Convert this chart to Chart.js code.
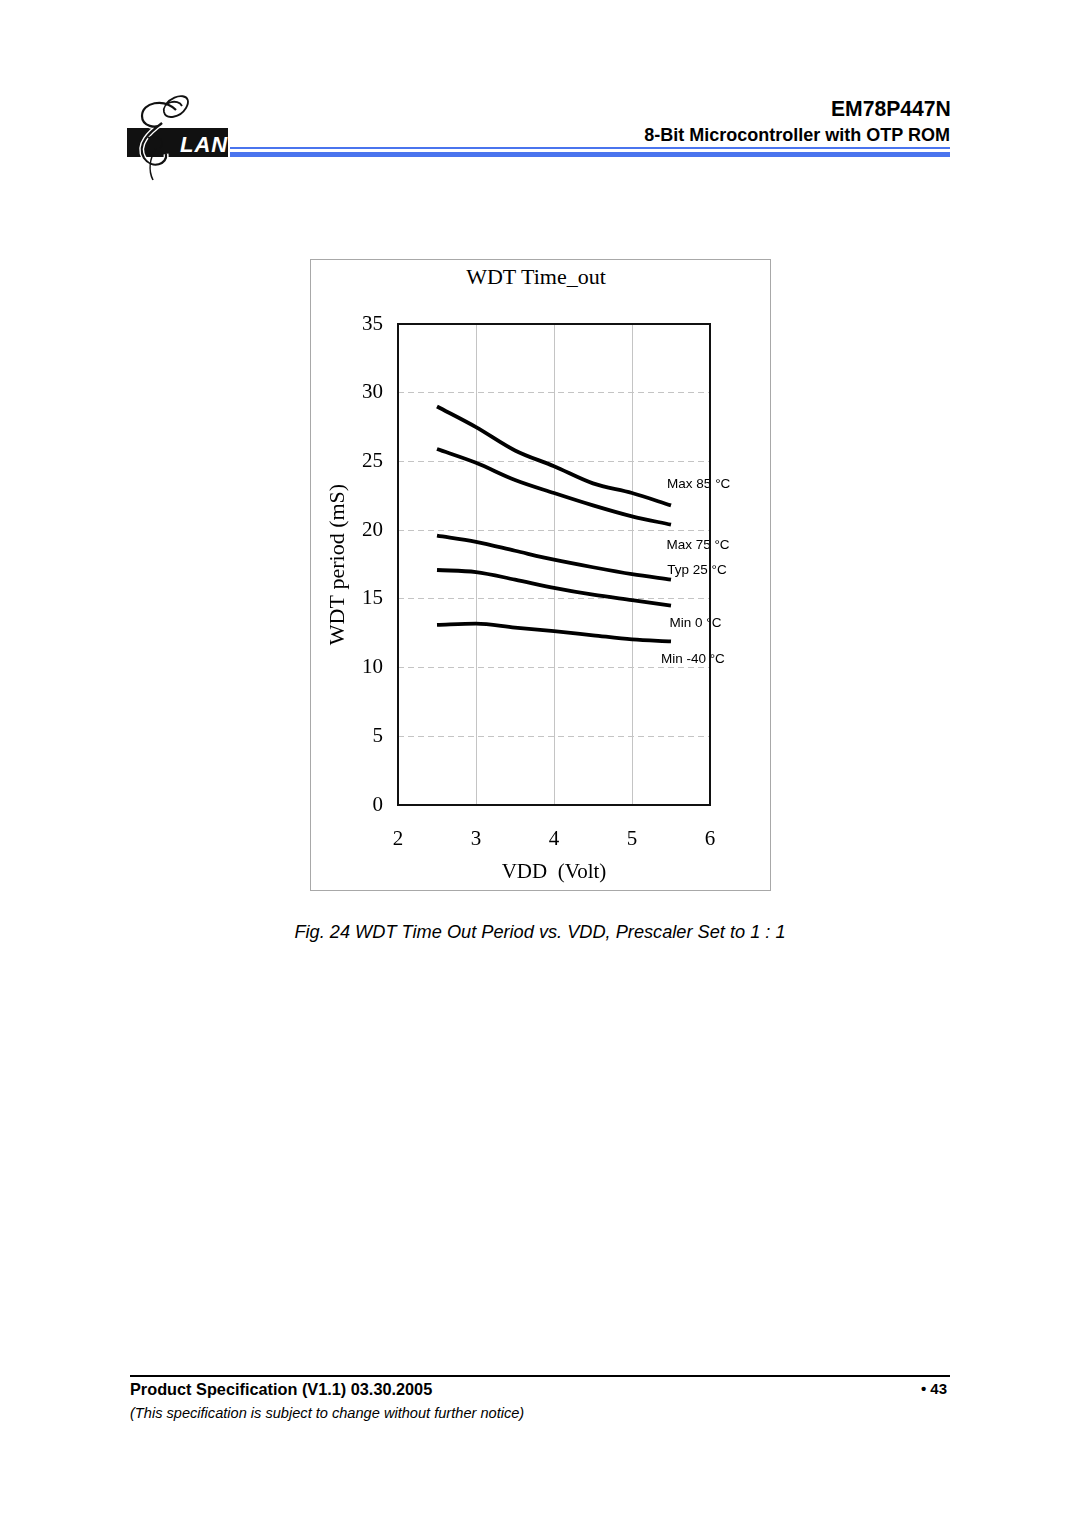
<!DOCTYPE html>
<html><head><meta charset="utf-8">
<script src="https://cdn.jsdelivr.net/npm/chart.js@4.4.1/dist/chart.umd.min.js"></script>
<style>
html,body{margin:0;padding:0;background:#fff;}
body{width:1080px;height:1528px;position:relative;overflow:hidden;font-family:"Liberation Sans",Arial,sans-serif;}
.abs{position:absolute;white-space:nowrap;}
#h1{right:129px;top:96px;font-weight:bold;font-size:22px;transform:scaleX(0.96);transform-origin:right center;}
#h2{right:130px;top:125px;font-weight:bold;font-size:18px;}
#l1{left:230px;top:147px;width:720px;height:2px;background:#4a74ee;}
#l2{left:230px;top:152px;width:720px;height:5px;background:#4a74ee;}
#box{left:310px;top:259px;width:459px;height:630px;border:1px solid #a8a8a8;}
#ctitle{left:307px;width:458px;top:264px;text-align:center;font-family:"Liberation Serif","Times New Roman",serif;font-size:22px;}
#wrap{left:311px;top:260px;width:458px;height:629px;}
#cap{left:0;width:1080px;top:922px;text-align:center;font-style:italic;font-size:18.2px;}
#fl{left:130px;top:1375px;width:820px;height:2px;background:#000;}
#f1{left:130px;top:1380px;font-weight:bold;font-size:16.3px;}
#f2{right:133px;top:1380px;font-weight:bold;font-size:15px;}
#f3{left:130px;top:1405px;font-style:italic;font-size:14.6px;}
</style></head>
<body>
<svg class="abs" style="left:120px;top:92px" width="115" height="92" viewBox="0 0 115 92">
  <rect x="7" y="36" width="101" height="29" fill="#111"/>
  <text x="60" y="60" font-family="Liberation Sans,Arial" font-weight="bold" font-style="italic" font-size="22" fill="#fff" letter-spacing="1">LAN</text>
  <path d="M56 18 C44 6,22 10,22 24 C22 34,36 38,42 31 M42 31 C30 40,16 52,24 66 C32 78,48 72,46 62" fill="none" stroke="#fff" stroke-width="5"/>
  <path d="M56 18 C44 6,22 10,22 24 C22 34,36 38,42 31 M42 31 C30 40,16 52,24 66 C32 78,48 72,46 62" fill="none" stroke="#111" stroke-width="2.2"/>
  <path d="M46 12 C56 0,74 2,66 16 C60 26,46 28,44 20 C42 10,58 6,62 14" fill="none" stroke="#111" stroke-width="1.8"/>
  <path d="M36 56 C30 66,28 78,33 88" fill="none" stroke="#111" stroke-width="1.6"/>
  <path d="M28 46 C40 42,46 50,40 56" fill="none" stroke="#111" stroke-width="1.4"/>
</svg>
<div class="abs" id="h1">EM78P447N</div>
<div class="abs" id="h2">8-Bit Microcontroller with OTP ROM</div>
<div class="abs" id="l1"></div><div class="abs" id="l2"></div>
<div class="abs" id="box"></div>
<div class="abs" id="ctitle">WDT Time_out</div>
<div class="abs" id="wrap"><canvas id="c" width="458" height="629"></canvas></div>
<div class="abs" id="cap">Fig. 24 WDT Time Out Period vs. VDD, Prescaler Set to 1 : 1</div>
<div class="abs" id="fl"></div>
<div class="abs" id="f1">Product Specification (V1.1) 03.30.2005</div>
<div class="abs" id="f2">&bull; 43</div>
<div class="abs" id="f3">(This specification is subject to change without further notice)</div>
<script>
const vdd = [2.5, 3.0, 3.5, 4.0, 4.5, 5.0, 5.5];
const max85 = [29.0, 27.5, 25.8, 24.65, 23.4, 22.7, 21.8];
const max75 = [25.9, 24.9, 23.65, 22.7, 21.8, 21.0, 20.4];
const typ25 = [19.6, 19.15, 18.5, 17.85, 17.3, 16.8, 16.4];
const min0 = [17.1, 16.95, 16.4, 15.8, 15.3, 14.9, 14.5];
const minM40 = [13.1, 13.2, 12.9, 12.65, 12.35, 12.05, 11.9];
const seriesNames = ["Max 85 \u00b0C", "Max 75 \u00b0C", "Typ 25 \u00b0C", "Min 0 \u00b0C", "Min -40 \u00b0C"];
const labelX = [5.855, 5.846, 5.833, 5.814, 5.78];
const labelY = [23.36, 18.92, 17.10, 13.22, 10.62];
const xTicks = [2, 3, 4, 5, 6];
const yTicks = [0, 5, 10, 15, 20, 25, 30, 35];

const allSeries = [max85, max75, typ25, min0, minM40];
const datasets = allSeries.map((s, i) => ({
  label: seriesNames[i],
  data: vdd.map((x, j) => ({x: x, y: s[j]})),
  borderColor: '#000', borderWidth: 3.8, pointRadius: 0, tension: 0.3,
  cubicInterpolationMode: 'monotone', fill: false
}));

const serif = "'Liberation Serif','Times New Roman',serif";
const deco = {
  id: 'deco',
  afterDatasetsDraw(chart) {
    const ctx = chart.ctx, xs = chart.scales.x, ys = chart.scales.y;
    ctx.save();
    ctx.fillStyle = '#000';
    ctx.font = "13.5px 'Liberation Sans', Arial, sans-serif";
    ctx.textAlign = 'center'; ctx.textBaseline = 'middle';
    seriesNames.forEach((n, i) => ctx.fillText(n, xs.getPixelForValue(labelX[i]), ys.getPixelForValue(labelY[i])));
    ctx.restore();
  },
  afterDraw(chart) {
    const ctx = chart.ctx, a = chart.chartArea;
    ctx.save();
    ctx.strokeStyle = '#111'; ctx.lineWidth = 2;
    ctx.strokeRect(a.left, a.top, a.right - a.left, a.bottom - a.top);
    ctx.restore();
  }
};

new Chart(document.getElementById('c'), {
  type: 'line',
  data: {datasets},
  options: {
    responsive: false, animation: false,
    layout: {padding: {top: 64, right: 59, left: 0, bottom: 0}},
    plugins: {legend: {display: false}, tooltip: {enabled: false}},
    scales: {
      x: {
        type: 'linear', min: 2, max: 6,
        afterBuildTicks: s => { s.ticks = xTicks.map(v => ({value: v})); },
        afterFit: s => { s.height = 84; },
        grid: {color: c => (c.tick && (c.tick.value === 2 || c.tick.value === 6)) ? 'rgba(0,0,0,0)' : '#c4c4c4', lineWidth: 1, drawTicks: false},
        border: {display: false},
        ticks: {color: '#000', font: {family: serif, size: 21}, padding: 22},
        title: {display: true, text: 'VDD  (Volt)', color: '#000', font: {family: serif, size: 21}, padding: {top: 0, bottom: 4}}
      },
      y: {
        type: 'linear', min: 0, max: 35,
        afterBuildTicks: s => { s.ticks = yTicks.map(v => ({value: v})); },
        afterFit: s => { s.width = 87; },
        grid: {color: c => (c.tick && (c.tick.value === 0 || c.tick.value === 35)) ? 'rgba(0,0,0,0)' : '#c4c4c4', lineWidth: 1, drawTicks: false},
        border: {display: false, dash: [6, 4]},
        ticks: {color: '#000', font: {family: serif, size: 21}, padding: 15},
        title: {display: true, text: 'WDT period (mS)', color: '#000', font: {family: serif, size: 22}, padding: {top: 14, bottom: 0}}
      }
    }
  },
  plugins: [deco]
});
</script>
</body></html>
